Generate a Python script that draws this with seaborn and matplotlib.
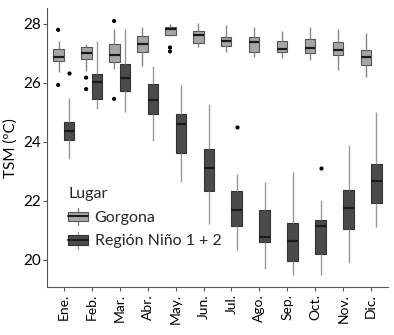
import matplotlib
matplotlib.use("Agg")
import numpy as np
import pandas as pd
import seaborn as sns
import matplotlib.pyplot as plt
from matplotlib.legend_handler import HandlerBase
from matplotlib.patches import Rectangle
from matplotlib.lines import Line2D

months = ["Ene.", "Feb.", "Mar.", "Abr.", "May.", "Jun.",
          "Jul.", "Ago.", "Sep.", "Oct.", "Nov.", "Dic."]
sites = ["Gorgona", "Región Niño 1 + 2"]

# Monthly SST summaries (ºC): lower whisker, Q1, median, Q3, upper whisker
gorgona_low = [26.38, 26.42, 26.46, 26.58, 27.59, 27.23, 27.06, 26.87, 26.84, 26.78, 26.44, 26.21]
gorgona_q1 = [26.75, 26.81, 26.71, 27.04, 27.63, 27.35, 27.25, 27.06, 27.05, 27.01, 26.93, 26.61]
gorgona_med = [26.87, 27.03, 26.95, 27.32, 27.82, 27.64, 27.43, 27.40, 27.16, 27.20, 27.12, 26.89]
gorgona_q3 = [27.14, 27.21, 27.33, 27.60, 27.89, 27.77, 27.55, 27.54, 27.43, 27.49, 27.38, 27.12]
gorgona_high = [27.43, 27.32, 27.82, 27.91, 28.00, 28.02, 27.97, 27.88, 27.76, 27.89, 27.83, 27.68]

nino_low = [23.41, 25.11, 25.03, 24.04, 22.63, 21.21, 20.34, 19.68, 19.49, 19.49, 19.91, 21.13]
nino_q1 = [24.07, 25.47, 25.74, 24.95, 23.64, 22.34, 21.15, 20.59, 19.97, 20.20, 21.06, 21.93]
nino_med = [24.38, 26.03, 26.18, 25.42, 24.61, 23.12, 21.69, 20.77, 20.64, 21.15, 21.75, 22.68]
nino_q3 = [24.69, 26.31, 26.63, 25.97, 24.94, 23.75, 22.34, 21.68, 21.25, 21.36, 22.36, 23.26]
nino_high = [25.48, 27.43, 27.82, 26.58, 25.93, 25.30, 22.92, 22.63, 22.97, 22.03, 23.90, 25.01]

# Outlying observations
outlier_month = ["Ene.", "Ene.", "Feb.", "Feb.", "Mar.", "Mar.", "May.", "May.",
                 "Ene.", "Jul.", "Oct."]
outlier_site = ["Gorgona"] * 8 + ["Región Niño 1 + 2"] * 3
outlier_value = [27.80, 25.93, 26.18, 25.79, 28.10, 25.46, 27.20, 27.07,
                 26.35, 24.49, 23.13]

# Long table: each box is built from its five summary values
rows = []
for site, stats in [(sites[0], [gorgona_low, gorgona_q1, gorgona_med, gorgona_q3, gorgona_high]),
                    (sites[1], [nino_low, nino_q1, nino_med, nino_q3, nino_high])]:
    for i, m in enumerate(months):
        for s in stats:
            rows.append({"Mes": m, "Lugar": site, "TSM": s[i]})
df = pd.DataFrame(rows)
out = pd.DataFrame({"Mes": outlier_month, "Lugar": outlier_site, "TSM": outlier_value})

sns.set_theme(style="ticks")
plt.rcParams["font.family"] = ["Lato", "DejaVu Sans"]

fills = {sites[0]: "#a6a6a6", sites[1]: "#4b4b4b"}
edges = {sites[0]: "#555555", sites[1]: "#333333"}
whisk = {sites[0]: "#858585", sites[1]: "#999999"}
medc = "#1a1a1a"

fig = plt.figure(figsize=(3.94, 3.35), dpi=100)
ax = fig.add_axes([0.1193, 0.1424, 0.8655, 0.8337])

sns.boxplot(data=df, x="Mes", y="TSM", hue="Lugar", order=months, hue_order=sites,
            palette=fills, width=0.75, gap=0, dodge=True, whis=(0, 100),
            showfliers=False, showcaps=False, saturation=1, legend=False, ax=ax)

for cont, site in zip(ax.containers, sites):
    for b in cont.boxes:
        b.set_edgecolor(edges[site])
        b.set_linewidth(0.8)
    for w in cont.whiskers:
        w.set_color(whisk[site])
        w.set_linewidth(1.0)
    for md in cont.medians:
        md.set_color(medc)
        md.set_linewidth(1.6)

sns.stripplot(data=out, x="Mes", y="TSM", hue="Lugar", order=months, hue_order=sites,
              palette={s: "black" for s in sites}, dodge=True, jitter=False, size=3,
              linewidth=0, legend=False, ax=ax)


class BoxKey(HandlerBase):
    def __init__(self, face, edge, wcol):
        super().__init__()
        self.face, self.edge, self.wcol = face, edge, wcol

    def create_artists(self, legend, orig_handle, xdescent, ydescent,
                       width, height, fontsize, trans):
        x0, y0 = -xdescent, -ydescent
        bh = height * 0.55
        by = y0 + (height - bh) / 2
        xm = x0 + width / 2
        lo = Line2D([xm, xm], [y0, by], color=self.wcol, lw=1.0, transform=trans)
        hi = Line2D([xm, xm], [by + bh, y0 + height], color=self.wcol, lw=1.0, transform=trans)
        rect = Rectangle((x0, by), width, bh, facecolor=self.face, edgecolor=self.edge,
                         lw=0.8, transform=trans)
        med = Line2D([x0, x0 + width], [by + bh / 2] * 2, color=medc, lw=1.4, transform=trans)
        return [lo, hi, rect, med]


proxies = [Rectangle((0, 0), 1, 1, label=s) for s in sites]
hmap = {p: BoxKey(fills[s], edges[s], whisk[s]) for p, s in zip(proxies, sites)}
leg = ax.legend(handles=proxies, handler_map=hmap, title="Lugar", loc="upper left",
                bbox_to_anchor=(0.062, 0.358), frameon=False, fontsize=11.5,
                title_fontsize=11.5, handlelength=1.25, handleheight=1.25,
                handletextpad=0.4, labelspacing=0.42, borderpad=0, borderaxespad=0,
                alignment="left")

ax.set_xlim(-0.6, 11.6)
ax.set_ylim(19.07, 28.54)
ax.set_yticks([20, 22, 24, 26, 28])
ax.set_xlabel("")
ax.set_ylabel("TSM (ºC)", fontsize=11, color="black", labelpad=4)
ax.tick_params(axis="x", labelrotation=90, labelsize=10, length=3, width=0.8,
               color="#555555", pad=2, labelcolor="black")
ax.tick_params(axis="y", labelsize=11, length=3, width=0.8, color="#555555",
               pad=1, labelcolor="black")
for sp in ["top", "right"]:
    ax.spines[sp].set_visible(False)
for sp in ["left", "bottom"]:
    ax.spines[sp].set_color("#555555")
    ax.spines[sp].set_linewidth(0.8)

fig.savefig("out.png", dpi=100)
